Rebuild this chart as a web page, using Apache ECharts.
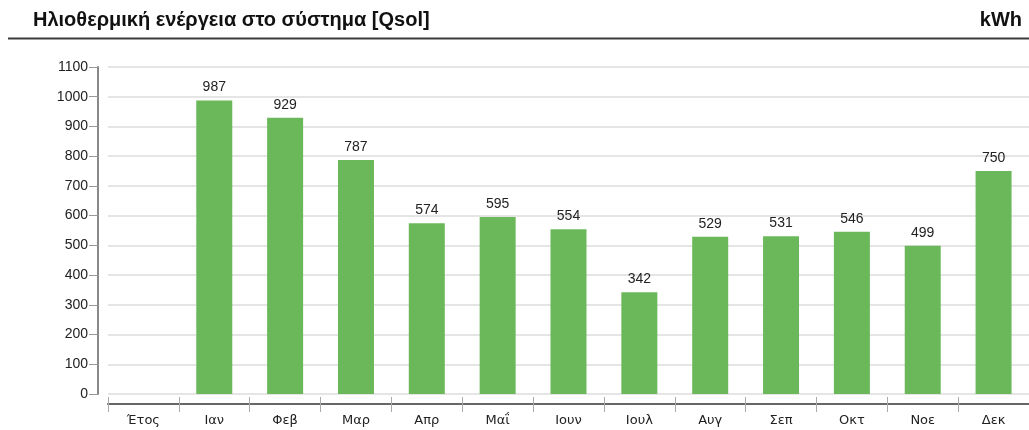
<!DOCTYPE html>
<html>
<head>
<meta charset="utf-8">
<script src="https://cdn.jsdelivr.net/npm/echarts@6/dist/echarts.min.js"></script>
<style>
  html, body { margin: 0; padding: 0; background: #fff; }
  #chart { width: 1029px; height: 430px; }
</style>
</head>
<body>
<div id="chart"></div>
<script>
// Monthly solar thermal energy delivered to the system (kWh)
const categories = ['Έτος', 'Ιαν', 'Φεβ', 'Μαρ', 'Απρ', 'Μαΐ', 'Ιουν', 'Ιουλ', 'Αυγ', 'Σεπ', 'Οκτ', 'Νοε', 'Δεκ'];
const qsolValues = [null, 987, 929, 787, 574, 595, 554, 342, 529, 531, 546, 499, 750];
const chartTitle = 'Ηλιοθερμική ενέργεια στο σύστημα [Qsol]';
const unitLabel = 'kWh';

const font = 'Liberation Sans, Arial, sans-serif';
const catFont = 'DejaVu Sans, sans-serif';
const chart = echarts.init(document.getElementById('chart'), null, { renderer: 'canvas' });

chart.setOption({
  animation: false,
  backgroundColor: '#fff',
  title: [
    { text: chartTitle, left: 28, top: 5, textStyle: { fontFamily: font, fontSize: 20, fontWeight: 'bold', color: '#111' } },
    { text: unitLabel, right: 2, top: 5, textStyle: { fontFamily: font, fontSize: 20, fontWeight: 'bold', color: '#111' } }
  ],
  graphic: [
    { type: 'line', shape: { x1: 8, y1: 38.5, x2: 1029, y2: 38.5 }, style: { stroke: '#3a3a3a', lineWidth: 2 } }
  ],
  grid: { left: 108, right: -2, top: 67, bottom: 36 },
  xAxis: [
    {
      type: 'category',
      data: categories,
      offset: 10,
      axisLine: { onZero: false, lineStyle: { color: '#666', width: 2 } },
      axisTick: { show: true, length: 8, lineStyle: { color: '#aaa' } },
      axisLabel: { fontFamily: catFont, fontSize: 13, color: '#222', margin: 10 }
    },
    {
      type: 'category',
      data: categories,
      position: 'bottom',
      offset: 10,
      axisLine: { show: false, onZero: false },
      axisTick: { show: true, inside: true, length: 7, lineStyle: { color: '#aaa' } },
      axisLabel: { show: false }
    }
  ],
  yAxis: {
    type: 'value',
    min: 0,
    max: 1100,
    interval: 100,
    offset: 10,
    axisLine: { show: true, lineStyle: { color: '#888', width: 2 } },
    axisTick: { show: true, length: 9, lineStyle: { color: '#999' } },
    axisLabel: { fontFamily: font, fontSize: 14, color: '#222', margin: 10, formatter: v => String(v) },
    splitLine: { lineStyle: { color: '#ddd', width: 1.5 } }
  },
  series: [{
    type: 'bar',
    data: qsolValues,
    barWidth: 36,
    itemStyle: { color: '#6bb85a' },
    label: { show: true, position: 'top', distance: 6, fontFamily: font, fontSize: 14, color: '#222' }
  }]
});
</script>
</body>
</html>
